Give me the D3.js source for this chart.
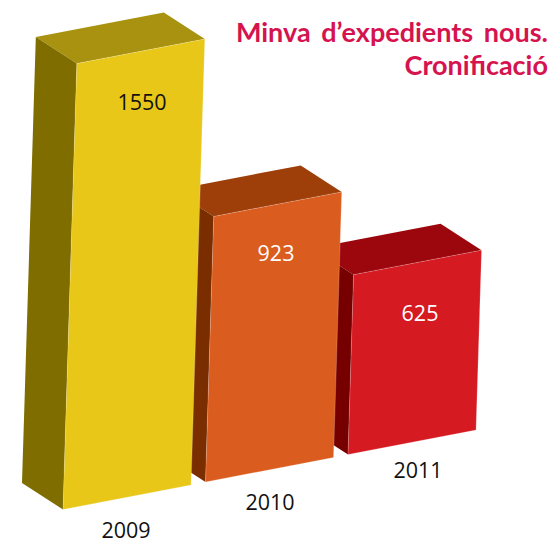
<!DOCTYPE html>
<html>
<head>
<meta charset="utf-8">
<script src="https://cdn.jsdelivr.net/npm/d3@7"></script>
<style>
html, body { margin: 0; padding: 0; background: #fff; }
svg { display: block; }
text { font-family: "Open Sans", sans-serif; }
</style>
</head>
<body>
<svg width="551" height="541"></svg>
<script>
var years = ["2009", "2010", "2011"];
var values = [1550, 923, 625];
var titleLines = ["Minva d\u2019expedients nous.", "Cronificaci\u00f3"];

var frontColors = ["#e8c718", "#da5c1e", "#d51a22"];
var sideColors = ["#7f6d00", "#7a2e00", "#760000"];
var topColors = ["#a8920f", "#9e3f0a", "#9c070d"];
var valueColors = ["#111", "#fff", "#fff"];

var svg = d3.select("svg");

// fake 3d: each bar has a base corner, the rest is offset from it
var baseX = d3.scalePoint().domain(years).range([63, 348]);
var baseY = d3.scalePoint().domain(years).range([509.5, 454.5]);
var heightScale = d3.scaleLinear().domain([0, 1550]).range([0, 446]);

// labels were placed by hand in the original, they don't sit on a straight line
var valueX = d3.scaleOrdinal().domain(years).range([142, 276, 420]);
var valueY = d3.scaleOrdinal().domain(years).range([109.5, 261, 321]);
var yearX = d3.scaleOrdinal().domain(years).range([126, 270, 418]);
var yearY = d3.scaleOrdinal().domain(years).range([538, 510, 478]);

var lean = 0.031;
var widthVec = [128, -24.5];
var depthVec = [-41, -26.5];

var bars = years.map(function(y, i) {
    var h = heightScale(values[i]);
    var bl = [baseX(y), baseY(y)];
    var tl = [bl[0] + h * lean, bl[1] - h];
    return {
        year: y, value: values[i], i: i,
        bl: bl, tl: tl,
        br: [bl[0] + widthVec[0], bl[1] + widthVec[1]],
        tr: [tl[0] + widthVec[0], tl[1] + widthVec[1]]
    };
});

function back(p) { return [p[0] + depthVec[0], p[1] + depthVec[1]]; }
function pts(list) { return list.map(function(p) { return p.join(","); }).join(" "); }

// farthest bar first so the taller ones cover it
var g = svg.selectAll("g.bar")
    .data(bars.slice().reverse())
    .enter().append("g")
    .attr("class", "bar");

g.append("polygon")
    .attr("points", function(d) { return pts([d.tl, d.tr, back(d.tr), back(d.tl)]); })
    .attr("fill", function(d) { return topColors[d.i]; });

g.append("polygon")
    .attr("points", function(d) { return pts([back(d.tl), d.tl, d.bl, back(d.bl)]); })
    .attr("fill", function(d) { return sideColors[d.i]; });

g.append("polygon")
    .attr("points", function(d) { return pts([d.tl, d.tr, d.br, d.bl]); })
    .attr("fill", function(d) { return frontColors[d.i]; })
    .attr("stroke", "#fff")
    .attr("stroke-opacity", 0.35)
    .attr("stroke-width", 0.6);

svg.selectAll("text.value")
    .data(bars)
    .enter().append("text")
    .attr("class", "value")
    .attr("x", function(d) { return valueX(d.year); })
    .attr("y", function(d) { return valueY(d.year); })
    .attr("text-anchor", "middle")
    .attr("font-size", 21.5)
    .attr("fill", function(d) { return valueColors[d.i]; })
    .text(function(d) { return d.value; });

svg.selectAll("text.year")
    .data(bars)
    .enter().append("text")
    .attr("class", "year")
    .attr("x", function(d) { return yearX(d.year); })
    .attr("y", function(d) { return yearY(d.year); })
    .attr("text-anchor", "middle")
    .attr("font-size", 21.5)
    .attr("fill", "#111")
    .text(function(d) { return d.year; });

svg.selectAll("text.title")
    .data(titleLines)
    .enter().append("text")
    .attr("class", "title")
    .attr("x", 548)
    .attr("y", function(d, i) { return 42 + i * 33; })
    .attr("text-anchor", "end")
    .attr("font-size", 27)
    .attr("font-weight", 700)
    .attr("word-spacing", 4)
    .attr("fill", "#d5134f")
    .style("font-family", "Lato, sans-serif")
    .text(function(d) { return d; });
</script>
</body>
</html>
